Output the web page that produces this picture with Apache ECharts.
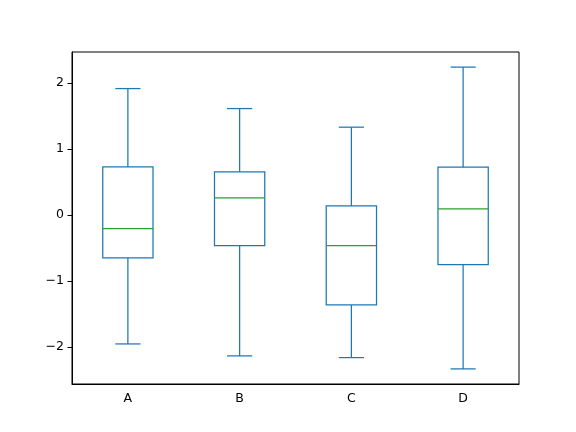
<!DOCTYPE html>
<html>
<head>
<meta charset="utf-8">
<script src="https://cdn.jsdelivr.net/npm/echarts@6/dist/echarts.min.js"></script>
<style>
  html, body { margin: 0; padding: 0; background: #fff; }
  #chart { width: 576px; height: 432px; }
</style>
</head>
<body>
<div id="chart"></div>
<script>
// box statistics
const categories = ['A', 'B', 'C', 'D']
const lowWhisker = [-1.955, -2.136, -2.162, -2.333]
const q1 = [-0.652, -0.465, -1.364, -0.753]
const median = [-0.208, 0.258, -0.465, 0.091]
const q3 = [0.727, 0.652, 0.136, 0.722]
const highWhisker = [1.914, 1.611, 1.329, 2.239]
const yTicks = [-2, -1, 0, 1, 2]

const boxData = categories.map((c, i) => [i, lowWhisker[i], q1[i], median[i], q3[i], highWhisker[i]])

const blue = '#1f77b4'
const green = '#2ca02c'
const font = 'DejaVu Sans'

function renderBox(params, api) {
  const idx = api.value(0)
  const low = api.coord([idx, api.value(1)])
  const bot = api.coord([idx, api.value(2)])
  const mid = api.coord([idx, api.value(3)])
  const top = api.coord([idx, api.value(4)])
  const high = api.coord([idx, api.value(5)])
  const band = api.size([1, 0])[0]
  const hw = band * 0.45 / 2
  const cw = hw / 2
  const x = low[0]
  const line = { stroke: blue, lineWidth: 1.25, fill: 'none' }
  return {
    type: 'group',
    children: [
      { type: 'line', shape: { x1: x, y1: high[1], x2: x, y2: top[1] }, style: line },
      { type: 'line', shape: { x1: x, y1: bot[1], x2: x, y2: low[1] }, style: line },
      { type: 'line', shape: { x1: x - cw, y1: high[1], x2: x + cw, y2: high[1] }, style: line },
      { type: 'line', shape: { x1: x - cw, y1: low[1], x2: x + cw, y2: low[1] }, style: line },
      { type: 'rect', shape: { x: x - hw, y: top[1], width: hw * 2, height: bot[1] - top[1] }, style: line },
      { type: 'line', shape: { x1: x - hw, y1: mid[1], x2: x + hw, y2: mid[1] }, style: { stroke: green, lineWidth: 1.25 } }
    ]
  }
}

const chart = echarts.init(document.getElementById('chart'))
chart.setOption({
  animation: false,
  backgroundColor: '#fff',
  grid: {
    left: 72,
    right: 57,
    top: 52,
    bottom: 48,
    show: true,
    borderColor: '#000',
    borderWidth: 1,
    backgroundColor: 'transparent'
  },
  xAxis: {
    type: 'category',
    data: categories,
    boundaryGap: true,
    axisLine: { onZero: false, lineStyle: { color: '#000', width: 1 } },
    axisTick: { alignWithLabel: true, length: 4.5, lineStyle: { color: '#000' } },
    axisLabel: { color: '#000', fontFamily: font, fontSize: 12.5, margin: 8 },
    splitLine: { show: false }
  },
  yAxis: {
    type: 'value',
    min: -2.562,
    max: 2.468,
    axisLine: { show: true, onZero: false, lineStyle: { color: '#000', width: 1 } },
    axisTick: { show: true, length: 4.5, customValues: yTicks, lineStyle: { color: '#000' } },
    axisLabel: {
      color: '#000', fontFamily: font, fontSize: 12.5, margin: 8,
      customValues: yTicks,
      formatter: v => String(v).replace('-', '\u2212')
    },
    splitLine: { show: false }
  },
  series: [{
    type: 'custom',
    renderItem: renderBox,
    encode: { x: 0, y: [1, 2, 3, 4, 5] },
    data: boxData
  }]
})
</script>
</body>
</html>
